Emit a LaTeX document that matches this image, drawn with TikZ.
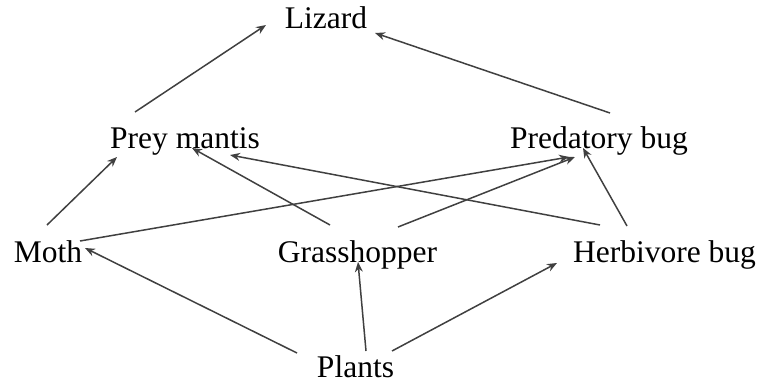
\documentclass[tikz,border=0pt]{standalone}
\usepackage{fontspec}
\setmainfont{Liberation Serif}
\usepackage{tikz}
\usetikzlibrary{arrows.meta, calc, positioning}
\tikzstyle{taxon} = [inner sep=0pt, anchor=base, font=\fontsize{31.5}{36}\selectfont]
\tikzstyle{arrow} = [line width=1.5pt, draw=black!75, -{Stealth[length=10pt,width=8pt]}]

\begin{document}
\begin{tikzpicture}[x=1pt, y=-1pt]
		\useasboundingbox (0,0) rectangle (762,385);
		\node (Lizard) [taxon] at (326,29) {Lizard};
		\node (Mantis) [taxon] at (185,148) {Prey mantis};
		\node (PredBug) [taxon] at (599,148) {Predatory bug};
		\node (Moth) [taxon] at (48,262) {Moth};
		\node (Grasshopper) [taxon] at (357.5,262) {Grasshopper};
		\node (HerbBug) [taxon] at (664.5,262) {Herbivore bug};
		\node (Plants) [taxon] at (355.5,377) {Plants};
		\draw [arrow] ([shift={(-50,-36)}]Mantis.base) -- ([shift={(-60,-4)}]Lizard.base);
		\draw [arrow] ([shift={(11,-35)}]PredBug.base) -- ([shift={(49,4)}]Lizard.base);
		\draw [arrow] ([shift={(-1,-37)}]Moth.base) -- ([shift={(-68,9)}]Mantis.base);
		\draw [arrow] ([shift={(32,-21)}]Moth.base) -- ([shift={(-30,9)}]PredBug.base);
		\draw [arrow] ([shift={(-27.5,-37)}]Grasshopper.base) -- ([shift={(7,0)}]Mantis.base);
		\draw [arrow] ([shift={(40.5,-35)}]Grasshopper.base) -- ([shift={(-24,9)}]PredBug.base);
		\draw [arrow] ([shift={(-64.5,-37)}]HerbBug.base) -- ([shift={(45,7)}]Mantis.base);
		\draw [arrow] ([shift={(-37.5,-36)}]HerbBug.base) -- ([shift={(-16,0)}]PredBug.base);
		\draw [arrow] ([shift={(-58.5,-24)}]Plants.base) -- ([shift={(37,-14)}]Moth.base);
		\draw [arrow] ([shift={(10.5,-26)}]Plants.base) -- ([shift={(0.5,0)}]Grasshopper.base);
		\draw [arrow] ([shift={(36.5,-26)}]Plants.base) -- ([shift={(-107.5,1)}]HerbBug.base);
\end{tikzpicture}
\end{document}
